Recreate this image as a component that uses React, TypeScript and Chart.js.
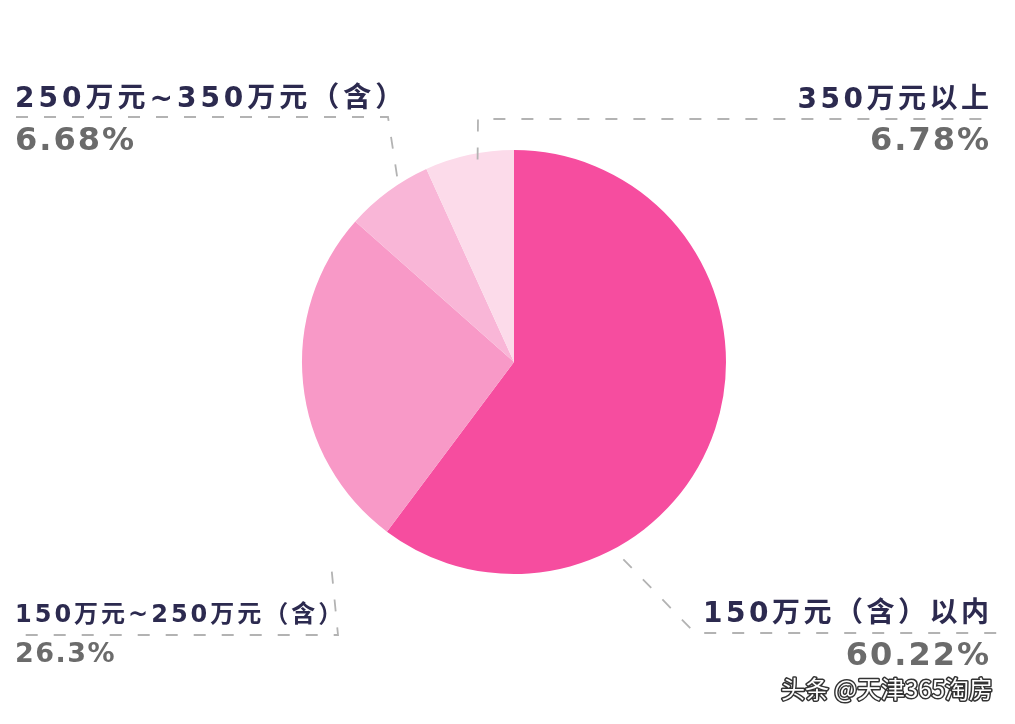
import React, { useEffect, useRef } from "react";
import { Chart, registerables } from "chart.js";

Chart.register(...registerables);

// ---- data ----
const categories = [
  "150万元（含）以内",
  "150万元~250万元（含）",
  "250万元~350万元（含）",
  "350万元以上",
];
const shares = [60.22, 26.3, 6.68, 6.78];
const shareLabels = ["60.22%", "26.3%", "6.68%", "6.78%"];
const watermark = "头条 @天津365淘房";

// ---- styles / layout ----
const COLORS = ["#F64D9F", "#F899C7", "#F9B6D7", "#FCDBEA"];
const NAME_COLOR = "#2c2a4f";
const PCT_COLOR = "#6b6b6b";
const FONT = '"DejaVu Sans", "Noto Sans CJK SC", sans-serif';
const WM_FONT = '"Noto Sans CJK SC", sans-serif';

type Layout = {
  align: "left" | "right";
  x: number;
  nameY: number;
  pctY: number;
  nameSize: number;
  pctSize: number;
  spacing: number;
  pctSpacing: number;
  angle: number; // leader attach angle, degrees clockwise from 12 o'clock
  rf: number; // leader attach radius factor
  elbow: [number, number];
  lineEnd: number;
};

const LAYOUT: Layout[] = [
  { align: "right", x: 989, nameY: 622, pctY: 665, nameSize: 28, pctSize: 32, spacing: 3.5, pctSpacing: 2, angle: 151, rf: 1.064, elbow: [695, 633], lineEnd: 1008 },
  { align: "left", x: 15, nameY: 622, pctY: 662, nameSize: 24, pctSize: 27, spacing: 3, pctSpacing: 1.5, angle: 221, rf: 1.31, elbow: [338, 635], lineEnd: 15 },
  { align: "left", x: 15, nameY: 107, pctY: 150, nameSize: 28, pctSize: 32, spacing: 4, pctSpacing: 2, angle: 327.8, rf: 1.035, elbow: [388, 117], lineEnd: 15 },
  { align: "right", x: 989, nameY: 108, pctY: 150, nameSize: 28, pctSize: 32, spacing: 3.5, pctSpacing: 2, angle: 349.8, rf: 0.97, elbow: [478, 119], lineEnd: 990 },
];

function drawSpaced(
  ctx: CanvasRenderingContext2D,
  text: string,
  x: number,
  y: number,
  spacing: number,
  align: "left" | "right"
) {
  const chars = [...text];
  const widths = chars.map((c) => ctx.measureText(c).width);
  const total = widths.reduce((a, b) => a + b, 0) + spacing * (chars.length - 1);
  let cx = align === "right" ? x - total : x;
  ctx.textAlign = "left";
  chars.forEach((c, i) => {
    ctx.fillText(c, cx, y);
    cx += widths[i] + spacing;
  });
}

const labelPlugin = {
  id: "pieLabels",
  afterDraw(chart: any) {
    const ctx: CanvasRenderingContext2D = chart.ctx;
    const meta = chart.getDatasetMeta(0);
    ctx.save();
    meta.data.forEach((arc: any, i: number) => {
      const L = LAYOUT[i];
      if (!L) return;
      const { x, y, outerRadius } = arc.getProps(["x", "y", "outerRadius"], true);
      const th = (L.angle * Math.PI) / 180;
      const px = x + outerRadius * L.rf * Math.sin(th);
      const py = y - outerRadius * L.rf * Math.cos(th);
      ctx.beginPath();
      ctx.setLineDash([12, 16]);
      ctx.strokeStyle = "#b3b3b3";
      ctx.lineWidth = 1.8;
      ctx.moveTo(px, py);
      ctx.lineTo(L.elbow[0], L.elbow[1]);
      ctx.lineTo(L.lineEnd, L.elbow[1]);
      ctx.stroke();
      ctx.setLineDash([]);

      ctx.textBaseline = "alphabetic";
      ctx.fillStyle = NAME_COLOR;
      ctx.font = `bold ${L.nameSize}px ${FONT}`;
      drawSpaced(ctx, chart.data.labels[i], L.x, L.nameY, L.spacing, L.align);
      ctx.fillStyle = PCT_COLOR;
      ctx.font = `bold ${L.pctSize}px ${FONT}`;
      drawSpaced(ctx, shareLabels[i], L.x, L.pctY, L.pctSpacing, L.align);
    });

    // watermark
    ctx.font = `24px ${WM_FONT}`;
    ctx.textAlign = "right";
    ctx.textBaseline = "alphabetic";
    ctx.lineJoin = "round";
    ctx.lineWidth = 3;
    ctx.strokeStyle = "rgba(40,40,40,0.95)";
    ctx.strokeText(watermark, 993, 698);
    ctx.fillStyle = "#ffffff";
    ctx.fillText(watermark, 993, 698);
    ctx.restore();
  },
};

export default function App() {
  const ref = useRef<HTMLCanvasElement | null>(null);
  useEffect(() => {
    document.body.style.margin = "0";
    if (!ref.current) return;
    const chart = new Chart(ref.current, {
      type: "pie",
      data: {
        labels: categories,
        datasets: [
          {
            data: shares,
            backgroundColor: COLORS,
            borderWidth: 0,
          },
        ],
      },
      options: {
        animation: false,
        responsive: true,
        maintainAspectRatio: false,
        layout: { padding: { left: 302, right: 289, top: 150, bottom: 150 } },
        plugins: {
          legend: { display: false },
          tooltip: { enabled: false },
        },
      },
      plugins: [labelPlugin],
    });
    return () => chart.destroy();
  }, []);
  return (
    <div style={{ width: 1015, height: 724, background: "#fff", position: "relative" }}>
      <canvas ref={ref} />
    </div>
  );
}
